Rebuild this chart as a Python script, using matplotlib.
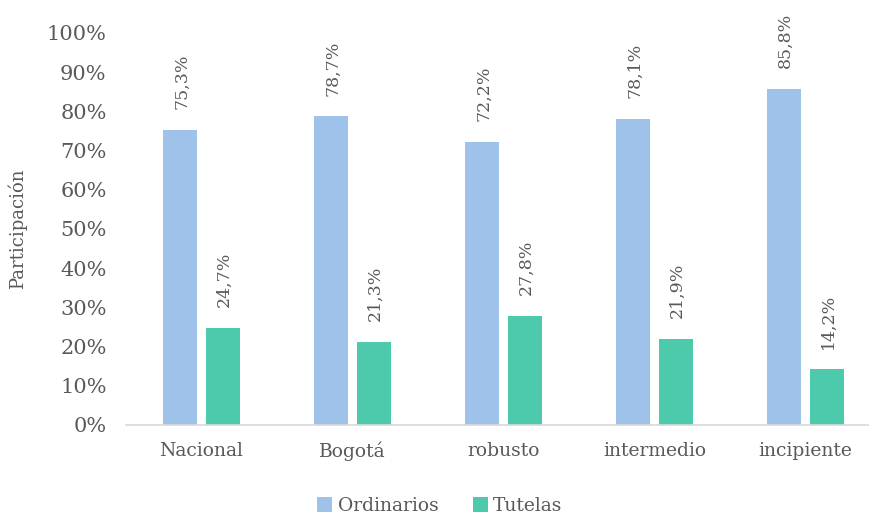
import numpy as np
import matplotlib.pyplot as plt
from matplotlib.ticker import FuncFormatter

categorias = ['Nacional', 'Bogotá', 'robusto', 'intermedio', 'incipiente']
ordinarios = [75.3, 78.7, 72.2, 78.1, 85.8]
tutelas = [24.7, 21.3, 27.8, 21.9, 14.2]

color_ord = '#9fc2ea'
color_tut = '#4dc9ac'
gris = '#595959'

plt.rcParams['font.family'] = ['DejaVu Serif']

fig = plt.figure(figsize=(8.69, 5.16), dpi=100)
# el eje se extiende un poco más allá del borde derecho
ax = fig.add_axes([126 / 869, (516 - 425) / 516, 755 / 869, 392 / 516])

x = np.arange(len(categorias))
ancho = 0.225
desp = 0.1425

b1 = ax.bar(x - desp, ordinarios, ancho, color=color_ord, label='Ordinarios')
b2 = ax.bar(x + desp, tutelas, ancho, color=color_tut, label='Tutelas')

for barras, vals in ((b1, ordinarios), (b2, tutelas)):
    for b, v in zip(barras, vals):
        ax.text(b.get_x() + b.get_width() / 2 + 0.01, v + 5.3,
                f'{v:.1f}%'.replace('.', ','), rotation=90,
                ha='center', va='bottom', fontsize=12.5, color=gris)

ax.set_xlim(-0.5, len(categorias) - 0.5)
ax.set_ylim(0, 100)
ax.set_yticks(np.arange(0, 101, 10))
ax.yaxis.set_major_formatter(FuncFormatter(lambda v, p: f'{v:.0f}%'))
ax.set_xticks(x)
ax.set_xticklabels(categorias)
ax.tick_params(axis='y', length=0, pad=14, labelsize=15, labelcolor=gris)
ax.tick_params(axis='x', length=0, pad=12, labelsize=13.5, labelcolor=gris)

for s in ('top', 'right', 'left'):
    ax.spines[s].set_visible(False)
ax.spines['bottom'].set_color('#d9d9d9')
ax.spines['bottom'].set_linewidth(1.2)

ax.set_ylabel('Participación', fontsize=13, color=gris, labelpad=14)

fig.legend(loc='center', bbox_to_anchor=(440 / 869, 1 - 506 / 516), ncol=2,
           frameon=False, fontsize=13.5, handlelength=0.8, handleheight=0.8,
           handletextpad=0.3, columnspacing=1.8, labelcolor=gris)

fig.savefig('out.png', dpi=100)
